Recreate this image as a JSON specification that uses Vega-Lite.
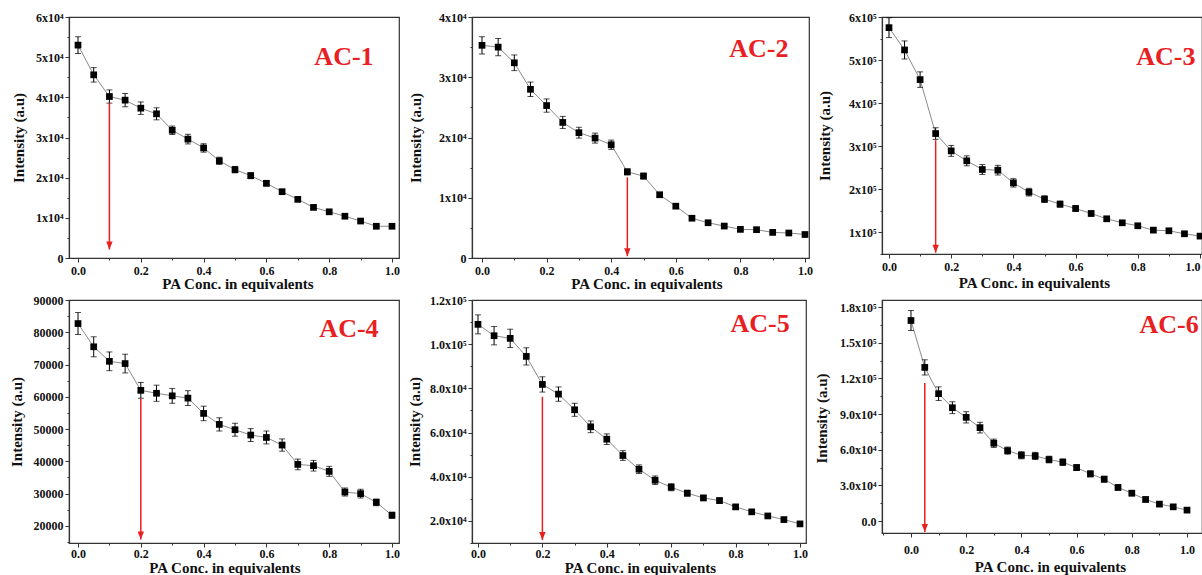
{
  "$schema": "https://vega.github.io/schema/vega-lite/v6.json",
  "background": "white",
  "padding": {"left": 8, "top": 10, "right": 0, "bottom": 0},
  "autosize": {"type": "pad"},
  "columns": 3,
  "spacing": {"row": 42, "column": 73},
  "bounds": "flush",
  "align": "each",
  "config": {
    "view": {"stroke": "#333333", "strokeWidth": 1.2},
    "axis": {"labelFont": "Liberation Serif", "labelFontWeight": "bold", "labelFontSize": 12, "labelColor": "#111111", "titleFont": "Liberation Serif", "titleFontWeight": "bold", "titleFontSize": 15, "titleColor": "#111111", "domainColor": "#333333", "domainWidth": 1.2, "tickColor": "#333333", "tickWidth": 1, "grid": false, "labelOverlap": false},
    "axisY": {"labelPadding": 2, "titleBaseline": "bottom"},
    "axisX": {"labelPadding": 3, "titleBaseline": "alphabetic"}
  },
  "concat": [
    {
      "width": 330, "height": 241,
      "data": {"values": [
        {"x": 0.00, "y": 53000, "e": 2100}, {"x": 0.05, "y": 45600, "e": 1800}, {"x": 0.10, "y": 40200, "e": 1650},
        {"x": 0.15, "y": 39300, "e": 1650}, {"x": 0.20, "y": 37300, "e": 1550}, {"x": 0.25, "y": 35900, "e": 1500},
        {"x": 0.30, "y": 31800, "e": 1050}, {"x": 0.35, "y": 29600, "e": 1200}, {"x": 0.40, "y": 27400, "e": 1050},
        {"x": 0.45, "y": 24200, "e": 900}, {"x": 0.50, "y": 22000, "e": 800}, {"x": 0.55, "y": 20500, "e": 750},
        {"x": 0.60, "y": 18600, "e": 650}, {"x": 0.65, "y": 16500, "e": 600}, {"x": 0.70, "y": 14600, "e": 500},
        {"x": 0.75, "y": 12600, "e": 500}, {"x": 0.80, "y": 11500, "e": 500}, {"x": 0.85, "y": 10400, "e": 450},
        {"x": 0.90, "y": 9200, "e": 450}, {"x": 0.95, "y": 7900, "e": 450}, {"x": 1.00, "y": 7900, "e": 450}
      ]},
      "encoding": {
        "x": {"field": "x", "type": "quantitative", "scale": {"domain": [-0.0287, 1.0223], "nice": false, "zero": false},
          "axis": {"title": "PA Conc. in equivalents", "values": [0, 0.1, 0.2, 0.3, 0.4, 0.5, 0.6, 0.7, 0.8, 0.9, 1],
            "labelExpr": "round(datum.value*10)%2===0 ? format(datum.value,'.1f') : ''",
            "tickSize": {"condition": {"test": "round(datum.value*10)%2===0", "value": 4}, "value": 2},
            "titleX": 168.5, "titleY": 30}},
        "y": {"field": "y", "type": "quantitative", "scale": {"domain": [0, 60000], "nice": false, "zero": false},
          "axis": {"title": "Intensity (a.u)", "values": [0, 5000, 10000, 15000, 20000, 25000, 30000, 35000, 40000, 45000, 50000, 55000, 60000],
            "labelExpr": "datum.value % 10000 === 0 ? (datum.value === 0 ? '0' : (datum.value/10000) + 'x10⁴') : ''",
            "tickSize": {"condition": {"test": "datum.value % 10000 === 0", "value": 4}, "value": 2},
            "titleX": -43, "titleY": 120.5}}
      },
      "layer": [
        {"mark": {"type": "line", "color": "#8a8a8a", "strokeWidth": 1}, "encoding": {}},
        {"mark": {"type": "errorbar", "ticks": {"size": 6}, "color": "black", "thickness": 1}, "encoding": {"yError": {"field": "e"}}},
        {"mark": {"type": "point", "shape": "square", "filled": true, "color": "black", "size": 45, "opacity": 1}},
        {"data": {"values": [{"x": 0.1, "y": 38650, "tip": 2100}]}, "mark": {"type": "rule", "color": "#e8201f", "strokeWidth": 1.5}, "encoding": {"y2": {"field": "tip"}}},
        {"data": {"values": [{"x": 0.1, "y": 2100}]}, "mark": {"type": "point", "shape": "M-0.8,-2L0.8,-2L0,0Z", "filled": true, "color": "#e8201f", "size": 64, "opacity": 1}},
        {"data": {"values": [{"x": 0.847, "y": 50000, "label": "AC-1"}]}, "mark": {"type": "text", "font": "Liberation Serif", "fontWeight": "bold", "fontSize": 26, "color": "#e8201f", "align": "center", "baseline": "middle"}, "encoding": {"text": {"field": "label"}}}
      ]
    },
    {
      "width": 337, "height": 241,
      "data": {"values": [
        {"x": 0.00, "y": 35300, "e": 1430}, {"x": 0.05, "y": 35000, "e": 1430}, {"x": 0.10, "y": 32400, "e": 1300},
        {"x": 0.15, "y": 28000, "e": 1200}, {"x": 0.20, "y": 25300, "e": 1100}, {"x": 0.25, "y": 22500, "e": 1000},
        {"x": 0.30, "y": 20800, "e": 900}, {"x": 0.35, "y": 19900, "e": 830}, {"x": 0.40, "y": 18800, "e": 770},
        {"x": 0.45, "y": 14300, "e": 500}, {"x": 0.50, "y": 13600, "e": 480}, {"x": 0.55, "y": 10500, "e": 350},
        {"x": 0.60, "y": 8600, "e": 300}, {"x": 0.65, "y": 6600, "e": 300}, {"x": 0.70, "y": 5850, "e": 250},
        {"x": 0.75, "y": 5300, "e": 250}, {"x": 0.80, "y": 4750, "e": 250}, {"x": 0.85, "y": 4700, "e": 250},
        {"x": 0.90, "y": 4250, "e": 250}, {"x": 0.95, "y": 4150, "e": 250}, {"x": 1.00, "y": 3900, "e": 250}
      ]},
      "encoding": {
        "x": {"field": "x", "type": "quantitative", "scale": {"domain": [-0.031, 1.0124], "nice": false, "zero": false},
          "axis": {"title": "PA Conc. in equivalents", "values": [0, 0.1, 0.2, 0.3, 0.4, 0.5, 0.6, 0.7, 0.8, 0.9, 1],
            "labelExpr": "round(datum.value*10)%2===0 ? format(datum.value,'.1f') : ''",
            "tickSize": {"condition": {"test": "round(datum.value*10)%2===0", "value": 4}, "value": 2},
            "titleX": 174.5, "titleY": 30}},
        "y": {"field": "y", "type": "quantitative", "scale": {"domain": [0, 40000], "nice": false, "zero": false},
          "axis": {"title": "Intensity (a.u)", "values": [0, 5000, 10000, 15000, 20000, 25000, 30000, 35000, 40000],
            "labelExpr": "datum.value % 10000 === 0 ? (datum.value === 0 ? '0' : (datum.value/10000) + 'x10⁴') : ''",
            "tickSize": {"condition": {"test": "datum.value % 10000 === 0", "value": 4}, "value": 2},
            "titleX": -49, "titleY": 120.5}}
      },
      "layer": [
        {"mark": {"type": "line", "color": "#8a8a8a", "strokeWidth": 1}, "encoding": {}},
        {"mark": {"type": "errorbar", "ticks": {"size": 6}, "color": "black", "thickness": 1}, "encoding": {"yError": {"field": "e"}}},
        {"mark": {"type": "point", "shape": "square", "filled": true, "color": "black", "size": 45, "opacity": 1}},
        {"data": {"values": [{"x": 0.45, "y": 13400, "tip": 300}]}, "mark": {"type": "rule", "color": "#e8201f", "strokeWidth": 1.5}, "encoding": {"y2": {"field": "tip"}}},
        {"data": {"values": [{"x": 0.45, "y": 300}]}, "mark": {"type": "point", "shape": "M-0.8,-2L0.8,-2L0,0Z", "filled": true, "color": "#e8201f", "size": 64, "opacity": 1}},
        {"data": {"values": [{"x": 0.857, "y": 34700, "label": "AC-2"}]}, "mark": {"type": "text", "font": "Liberation Serif", "fontWeight": "bold", "fontSize": 26, "color": "#e8201f", "align": "center", "baseline": "middle"}, "encoding": {"text": {"field": "label"}}}
      ]
    },
    {
      "width": 320, "height": 237,
      "data": {"values": [
        {"x": 0.00, "y": 575300, "e": 23000}, {"x": 0.05, "y": 523500, "e": 21000}, {"x": 0.10, "y": 454700, "e": 18000},
        {"x": 0.15, "y": 329500, "e": 13500}, {"x": 0.20, "y": 289300, "e": 12700}, {"x": 0.25, "y": 266200, "e": 11600},
        {"x": 0.30, "y": 246100, "e": 11500}, {"x": 0.35, "y": 244500, "e": 11200}, {"x": 0.40, "y": 215100, "e": 9700},
        {"x": 0.45, "y": 193500, "e": 8900}, {"x": 0.50, "y": 177300, "e": 7700}, {"x": 0.55, "y": 165700, "e": 7000},
        {"x": 0.60, "y": 155600, "e": 6500}, {"x": 0.65, "y": 144000, "e": 6000}, {"x": 0.70, "y": 131700, "e": 5500},
        {"x": 0.75, "y": 122400, "e": 5000}, {"x": 0.80, "y": 115500, "e": 5000}, {"x": 0.85, "y": 105400, "e": 4500},
        {"x": 0.90, "y": 103900, "e": 4500}, {"x": 0.95, "y": 96900, "e": 4500}, {"x": 1.00, "y": 91500, "e": 4500}
      ]},
      "encoding": {
        "x": {"field": "x", "type": "quantitative", "scale": {"domain": [-0.0225, 1.0064], "nice": false, "zero": false},
          "axis": {"title": "PA Conc. in equivalents", "values": [0, 0.1, 0.2, 0.3, 0.4, 0.5, 0.6, 0.7, 0.8, 0.9, 1],
            "labelExpr": "round(datum.value*10)%2===0 ? format(datum.value,'.1f') : ''",
            "tickSize": {"condition": {"test": "round(datum.value*10)%2===0", "value": 4}, "value": 2},
            "labelFlush": 5, "titleX": 152, "titleY": 33}},
        "y": {"field": "y", "type": "quantitative", "scale": {"domain": [50000, 600000], "nice": false, "zero": false},
          "axis": {"title": "Intensity (a.u)", "values": [50000, 100000, 150000, 200000, 250000, 300000, 350000, 400000, 450000, 500000, 550000, 600000],
            "labelExpr": "datum.value % 100000 === 0 ? (datum.value/100000) + 'x10⁵' : ''",
            "tickSize": {"condition": {"test": "datum.value % 100000 === 0", "value": 4}, "value": 2},
            "titleX": -50, "titleY": 118.5}}
      },
      "layer": [
        {"mark": {"type": "line", "color": "#8a8a8a", "strokeWidth": 1, "clip": true}, "encoding": {}},
        {"mark": {"type": "errorbar", "ticks": {"size": 6}, "color": "black", "thickness": 1, "clip": true}, "encoding": {"yError": {"field": "e"}}},
        {"mark": {"type": "point", "shape": "square", "filled": true, "color": "black", "size": 45, "opacity": 1, "clip": true}},
        {"data": {"values": [{"x": 0.15, "y": 314000, "tip": 53000}]}, "mark": {"type": "rule", "color": "#e8201f", "strokeWidth": 1.5}, "encoding": {"y2": {"field": "tip"}}},
        {"data": {"values": [{"x": 0.15, "y": 53000}]}, "mark": {"type": "point", "shape": "M-0.8,-2L0.8,-2L0,0Z", "filled": true, "color": "#e8201f", "size": 64, "opacity": 1}},
        {"data": {"values": [{"x": 0.89, "y": 507000, "label": "AC-3"}]}, "mark": {"type": "text", "font": "Liberation Serif", "fontWeight": "bold", "fontSize": 26, "color": "#e8201f", "align": "center", "baseline": "middle"}, "encoding": {"text": {"field": "label"}}}
      ]
    },
    {
      "width": 330, "height": 243,
      "data": {"values": [
        {"x": 0.00, "y": 82700, "e": 3400}, {"x": 0.05, "y": 75500, "e": 3100}, {"x": 0.10, "y": 71000, "e": 2900},
        {"x": 0.15, "y": 70300, "e": 2900}, {"x": 0.20, "y": 62000, "e": 2450}, {"x": 0.25, "y": 61100, "e": 2500},
        {"x": 0.30, "y": 60300, "e": 2300}, {"x": 0.35, "y": 59600, "e": 2300}, {"x": 0.40, "y": 54850, "e": 2250},
        {"x": 0.45, "y": 51450, "e": 2050}, {"x": 0.50, "y": 49800, "e": 2000}, {"x": 0.55, "y": 48150, "e": 2000},
        {"x": 0.60, "y": 47400, "e": 2000}, {"x": 0.65, "y": 45050, "e": 1900}, {"x": 0.70, "y": 39050, "e": 1650},
        {"x": 0.75, "y": 38650, "e": 1650}, {"x": 0.80, "y": 36900, "e": 1550}, {"x": 0.85, "y": 30500, "e": 1250},
        {"x": 0.90, "y": 30000, "e": 1350}, {"x": 0.95, "y": 27300, "e": 1050}, {"x": 1.00, "y": 23300, "e": 950}
      ]},
      "encoding": {
        "x": {"field": "x", "type": "quantitative", "scale": {"domain": [-0.0287, 1.0223], "nice": false, "zero": false},
          "axis": {"title": "PA Conc. in equivalents", "values": [0, 0.1, 0.2, 0.3, 0.4, 0.5, 0.6, 0.7, 0.8, 0.9, 1],
            "labelExpr": "round(datum.value*10)%2===0 ? format(datum.value,'.1f') : ''",
            "tickSize": {"condition": {"test": "round(datum.value*10)%2===0", "value": 4}, "value": 2},
            "labelPadding": 1, "titleX": 155.5, "titleY": 29}},
        "y": {"field": "y", "type": "quantitative", "scale": {"domain": [14700, 90000], "nice": false, "zero": false},
          "axis": {"title": "Intensity (a.u)", "values": [15000, 20000, 25000, 30000, 35000, 40000, 45000, 50000, 55000, 60000, 65000, 70000, 75000, 80000, 85000, 90000],
            "labelExpr": "datum.value % 10000 === 0 ? format(datum.value, 'd') : ''",
            "tickSize": {"condition": {"test": "datum.value % 10000 === 0", "value": 4}, "value": 2},
            "titleX": -45, "titleY": 121.5}}
      },
      "layer": [
        {"mark": {"type": "line", "color": "#8a8a8a", "strokeWidth": 1}, "encoding": {}},
        {"mark": {"type": "errorbar", "ticks": {"size": 6}, "color": "black", "thickness": 1}, "encoding": {"yError": {"field": "e"}}},
        {"mark": {"type": "point", "shape": "square", "filled": true, "color": "black", "size": 45, "opacity": 1}},
        {"data": {"values": [{"x": 0.2, "y": 59500, "tip": 15800}]}, "mark": {"type": "rule", "color": "#e8201f", "strokeWidth": 1.5}, "encoding": {"y2": {"field": "tip"}}},
        {"data": {"values": [{"x": 0.2, "y": 15800}]}, "mark": {"type": "point", "shape": "M-0.8,-2L0.8,-2L0,0Z", "filled": true, "color": "#e8201f", "size": 64, "opacity": 1}},
        {"data": {"values": [{"x": 0.863, "y": 81000, "label": "AC-4"}]}, "mark": {"type": "text", "font": "Liberation Serif", "fontWeight": "bold", "fontSize": 26, "color": "#e8201f", "align": "center", "baseline": "middle"}, "encoding": {"text": {"field": "label"}}}
      ]
    },
    {
      "width": 334, "height": 243,
      "data": {"values": [
        {"x": 0.00, "y": 108970, "e": 4300}, {"x": 0.05, "y": 103840, "e": 4150}, {"x": 0.10, "y": 102630, "e": 4150},
        {"x": 0.15, "y": 94470, "e": 3900}, {"x": 0.20, "y": 81780, "e": 3450}, {"x": 0.25, "y": 77400, "e": 3250},
        {"x": 0.30, "y": 70300, "e": 2950}, {"x": 0.35, "y": 62600, "e": 2650}, {"x": 0.40, "y": 57000, "e": 2400},
        {"x": 0.45, "y": 49600, "e": 2200}, {"x": 0.50, "y": 43400, "e": 1950}, {"x": 0.55, "y": 38400, "e": 1950},
        {"x": 0.60, "y": 35250, "e": 1600}, {"x": 0.65, "y": 32550, "e": 1300}, {"x": 0.70, "y": 30400, "e": 1200},
        {"x": 0.75, "y": 29200, "e": 1200}, {"x": 0.80, "y": 26350, "e": 1100}, {"x": 0.85, "y": 24100, "e": 1000},
        {"x": 0.90, "y": 22250, "e": 1000}, {"x": 0.95, "y": 20600, "e": 900}, {"x": 1.00, "y": 18650, "e": 900}
      ]},
      "encoding": {
        "x": {"field": "x", "type": "quantitative", "scale": {"domain": [-0.0186, 1.0186], "nice": false, "zero": false},
          "axis": {"title": "PA Conc. in equivalents", "values": [0, 0.1, 0.2, 0.3, 0.4, 0.5, 0.6, 0.7, 0.8, 0.9, 1],
            "labelExpr": "round(datum.value*10)%2===0 ? format(datum.value,'.1f') : ''",
            "tickSize": {"condition": {"test": "round(datum.value*10)%2===0", "value": 4}, "value": 2},
            "labelPadding": 1, "titleX": 168, "titleY": 29}},
        "y": {"field": "y", "type": "quantitative", "scale": {"domain": [10000, 120000], "nice": false, "zero": false},
          "axis": {"title": "Intensity (a.u)", "values": [10000, 20000, 30000, 40000, 50000, 60000, 70000, 80000, 90000, 100000, 110000, 120000],
            "labelExpr": "datum.value % 20000 === 0 ? (datum.value >= 100000 ? format(datum.value/100000, '.1f') + 'x10⁵' : format(datum.value/10000, '.1f') + 'x10⁴') : ''",
            "tickSize": {"condition": {"test": "datum.value % 20000 === 0", "value": 4}, "value": 2},
            "titleX": -50, "titleY": 121.5}}
      },
      "layer": [
        {"mark": {"type": "line", "color": "#8a8a8a", "strokeWidth": 1}, "encoding": {}},
        {"mark": {"type": "errorbar", "ticks": {"size": 6}, "color": "black", "thickness": 1}, "encoding": {"yError": {"field": "e"}}},
        {"mark": {"type": "point", "shape": "square", "filled": true, "color": "black", "size": 45, "opacity": 1}},
        {"data": {"values": [{"x": 0.2, "y": 76200, "tip": 11400}]}, "mark": {"type": "rule", "color": "#e8201f", "strokeWidth": 1.5}, "encoding": {"y2": {"field": "tip"}}},
        {"data": {"values": [{"x": 0.2, "y": 11400}]}, "mark": {"type": "point", "shape": "M-0.8,-2L0.8,-2L0,0Z", "filled": true, "color": "#e8201f", "size": 64, "opacity": 1}},
        {"data": {"values": [{"x": 0.876, "y": 109100, "label": "AC-5"}]}, "mark": {"type": "text", "font": "Liberation Serif", "fontWeight": "bold", "fontSize": 26, "color": "#e8201f", "align": "center", "baseline": "middle"}, "encoding": {"text": {"field": "label"}}}
      ]
    },
    {
      "width": 320, "height": 233,
      "data": {"values": [
        {"x": 0.00, "y": 168750, "e": 8400}, {"x": 0.05, "y": 129300, "e": 6400}, {"x": 0.10, "y": 107200, "e": 5700},
        {"x": 0.15, "y": 95400, "e": 5000}, {"x": 0.20, "y": 87300, "e": 4750}, {"x": 0.25, "y": 78650, "e": 4500},
        {"x": 0.30, "y": 65500, "e": 3500}, {"x": 0.35, "y": 59300, "e": 3000}, {"x": 0.40, "y": 55400, "e": 3000},
        {"x": 0.45, "y": 54850, "e": 3000}, {"x": 0.50, "y": 51800, "e": 2800}, {"x": 0.55, "y": 49550, "e": 2800},
        {"x": 0.60, "y": 45050, "e": 2500}, {"x": 0.65, "y": 39750, "e": 2500}, {"x": 0.70, "y": 35250, "e": 2500},
        {"x": 0.75, "y": 28300, "e": 2200}, {"x": 0.80, "y": 23500, "e": 2200}, {"x": 0.85, "y": 18200, "e": 2000},
        {"x": 0.90, "y": 14300, "e": 2000}, {"x": 0.95, "y": 12000, "e": 2000}, {"x": 1.00, "y": 9250, "e": 2000}
      ]},
      "encoding": {
        "x": {"field": "x", "type": "quantitative", "scale": {"domain": [-0.105, 1.0543], "nice": false, "zero": false},
          "axis": {"title": "PA Conc. in equivalents", "values": [-0.1, 0, 0.1, 0.2, 0.3, 0.4, 0.5, 0.6, 0.7, 0.8, 0.9, 1],
            "labelExpr": "round(datum.value*10)%2===0 ? format(datum.value,'.1f') : ''",
            "tickSize": {"condition": {"test": "round(datum.value*10)%2===0", "value": 4}, "value": 2},
            "labelPadding": 7, "titleX": 168, "titleY": 38}},
        "y": {"field": "y", "type": "quantitative", "scale": {"domain": [-10000, 186000], "nice": false, "zero": false},
          "axis": {"title": "Intensity (a.u)", "values": [0, 15000, 30000, 45000, 60000, 75000, 90000, 105000, 120000, 135000, 150000, 165000, 180000],
            "labelExpr": "datum.value % 30000 === 0 ? (datum.value === 0 ? '0.0' : datum.value >= 100000 ? format(datum.value/100000, '.1f') + 'x10⁵' : format(datum.value/10000, '.1f') + 'x10⁴') : ''",
            "tickSize": {"condition": {"test": "datum.value % 30000 === 0", "value": 4}, "value": 2},
            "titleX": -53, "titleY": 118}}
      },
      "layer": [
        {"mark": {"type": "line", "color": "#8a8a8a", "strokeWidth": 1, "clip": true}, "encoding": {}},
        {"mark": {"type": "errorbar", "ticks": {"size": 6}, "color": "black", "thickness": 1, "clip": true}, "encoding": {"yError": {"field": "e"}}},
        {"mark": {"type": "point", "shape": "square", "filled": true, "color": "black", "size": 45, "opacity": 1, "clip": true}},
        {"data": {"values": [{"x": 0.05, "y": 116100, "tip": -9200}]}, "mark": {"type": "rule", "color": "#e8201f", "strokeWidth": 1.5}, "encoding": {"y2": {"field": "tip"}}},
        {"data": {"values": [{"x": 0.05, "y": -9200}]}, "mark": {"type": "point", "shape": "M-0.8,-2L0.8,-2L0,0Z", "filled": true, "color": "#e8201f", "size": 64, "opacity": 1}},
        {"data": {"values": [{"x": 0.935, "y": 165100, "label": "AC-6"}]}, "mark": {"type": "text", "font": "Liberation Serif", "fontWeight": "bold", "fontSize": 26, "color": "#e8201f", "align": "center", "baseline": "middle"}, "encoding": {"text": {"field": "label"}}}
      ]
    }
  ]
}
